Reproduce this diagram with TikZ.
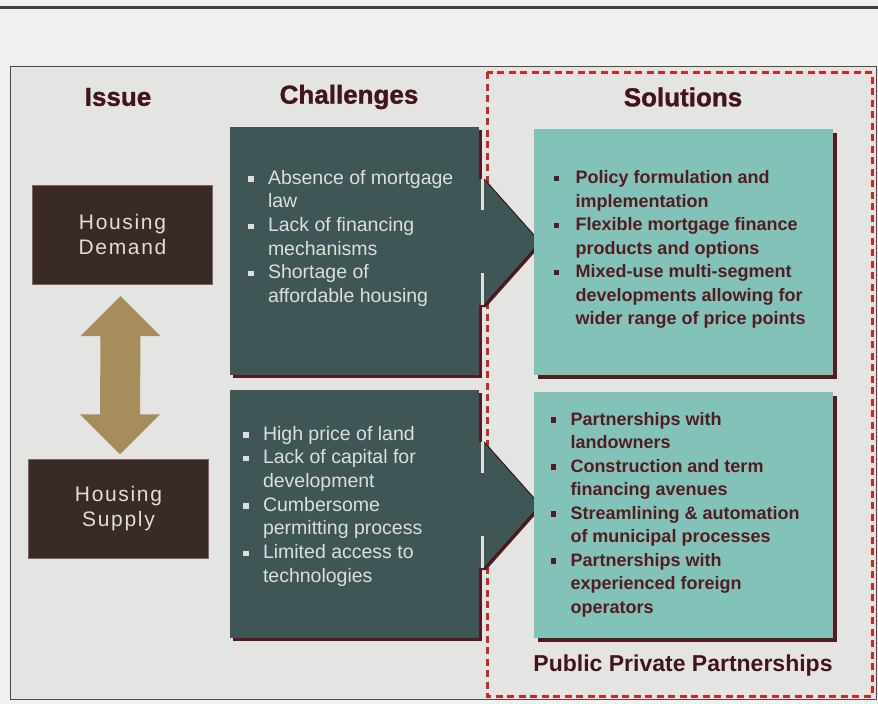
\documentclass[tikz,border=0pt]{standalone}
\usepackage{fontspec}
\setmainfont{Liberation Sans}
\usetikzlibrary{calc,positioning,shadows}
\definecolor{paper}{RGB}{228,228,226}
\definecolor{brownbox}{RGB}{58,42,38}
\definecolor{slate}{RGB}{62,86,86}
\definecolor{seafoam}{RGB}{130,194,184}
\definecolor{maroon}{RGB}{82,28,32}
\definecolor{khaki}{RGB}{166,142,92}
\definecolor{dashred}{RGB}{208,38,38}
\definecolor{pale}{RGB}{222,222,218}
\tikzstyle{heading}=[font=\fontsize{26}{30}\selectfont\bfseries\addfontfeature{FakeBold=1.2},
  text=maroon!80!black]
\tikzstyle{issue}=[rectangle, draw=maroon!70, fill=brownbox, text=pale, align=center,
  minimum width=180pt, minimum height=99pt,
  font=\fontsize{21}{25}\selectfont\addfontfeature{LetterSpace=8}]
\tikzstyle{challenge}=[rectangle, fill=slate, minimum width=249pt, minimum height=248pt,
  drop shadow={shadow xshift=3pt, shadow yshift=-3pt, fill=maroon, opacity=1}]
\tikzstyle{solution}=[rectangle, fill=seafoam, minimum width=299pt, minimum height=246pt,
  drop shadow={shadow xshift=4pt, shadow yshift=-4pt, fill=maroon, opacity=1}]
\tikzstyle{points}=[inner sep=0pt, align=left]
\newcommand{\issue}{\node[issue]}
\newcommand{\challenge}{\node[challenge]}
\newcommand{\solution}{\node[solution]}
\newcommand{\bu}[1][20pt]{\makebox[#1][l]{\raisebox{2.5pt}{\rule{5.5pt}{5.5pt}}}}
\newcommand{\ind}[1][20pt]{\hspace*{#1}}
\newcommand{\pointer}[1]{%
  \fill[slate, drop shadow={shadow xshift=2pt, shadow yshift=-2pt, fill=maroon, opacity=1}]
    ($(#1.east)+(0,-72)$) -- ++(5,0) -- ++(56,63) -- ++(-56,63) -- ++(-5,0) -- cycle;
  \draw[maroon!60!black, line width=0.8pt] ($(#1.east)+(5,-72)$) -- ++(56,63) -- ++(-56,63);
  \draw[pale, line width=2.5pt] ($(#1.east)+(3.5,-72)$) -- ++(0,31) ($(#1.east)+(3.5,22)$) -- ++(0,32);}

\begin{document}
\begin{tikzpicture}[x=1pt, y=-1pt]
\useasboundingbox (0,0) rectangle (878,704);
\fill[paper!55!white] (0,0) rectangle (878,704);
\fill[paper] (10,66) rectangle (876,699);
\draw[line width=3pt, black!75] (0,7) -- (878,7);
\draw[line width=1pt, black!70] (10,66) rectangle (876,699);
\draw[dashred, line width=3pt, dash pattern=on 7pt off 4.5pt] (487,72) rectangle (872,696);

\node[heading] (hiss) at (118,97) {Issue};
\node[heading] (hcha) at (349,97) {Challenges};
\node[heading] (hsol) at (683,97) {Solutions};

\issue (dem) at (122.5,234.5) {Housing\\Demand};
\issue (sup) at (118.5,509) {Housing\\Supply};

\challenge (ch1) at (354.5,251) {};
\challenge (ch2) at (354.5,514) {};
\pointer{ch1}
\pointer{ch2}

\solution (so1) at (683,251.5) {};
\solution (so2) at (683,515) {};

\node[points, below right=43pt and 18pt of ch1.north west, text=pale,
  font=\fontsize{19.5}{23.7}\selectfont] (ch1txt)
  {\bu Absence of mortgage\\ \ind law\\ \bu Lack of financing\\ \ind mechanisms\\
   \bu Shortage of\\ \ind affordable housing};
\node[points, below right=36pt and 13pt of ch2.north west, text=pale,
  font=\fontsize{19.5}{23.7}\selectfont] (ch2txt)
  {\bu High price of land\\ \bu Lack of capital for\\ \ind development\\
   \bu Cumbersome\\ \ind permitting process\\ \bu Limited access to\\ \ind technologies};
\node[points, below right=42pt and 20pt of so1.north west, text=maroon,
  font=\fontsize{18}{23.5}\selectfont\bfseries] (so1txt)
  {\bu[17pt] Policy formulation and\\ \ind[17pt] implementation\\
   \bu[17pt] Flexible mortgage finance\\ \ind[17pt] products and options\\
   \bu[17pt] Mixed-use multi-segment\\ \ind[17pt] developments allowing for\\
   \ind[17pt] wider range of price points};
\node[points, below right=20pt and 17pt of so2.north west, text=maroon,
  font=\fontsize{18}{23.5}\selectfont\bfseries] (so2txt)
  {\bu Partnerships with\\ \ind landowners\\ \bu Construction and term\\ \ind financing avenues\\
   \bu Streamlining \& automation\\ \ind of municipal processes\\
   \bu Partnerships with\\ \ind experienced foreign\\ \ind operators};

\node[heading, font=\fontsize{23}{27}\selectfont\bfseries] (ppp) at (683,666) {Public Private Partnerships};

% two-way arrow between demand and supply
\coordinate (utip) at ($(dem.south)+(-2,12)$);
\coordinate (dtip) at ($(sup.north)+(1.5,-5)$);
\fill[khaki] (utip) -- ++(40,40) -- ++(-20,0) -- ($(dtip)+(20,-40)$) -- ++(20,0) -- (dtip)
  -- ++(-40,-40) -- ++(20,0) -- ($(utip)+(-20,40)$) -- ++(-20,0) -- cycle;
\end{tikzpicture}
\end{document}
